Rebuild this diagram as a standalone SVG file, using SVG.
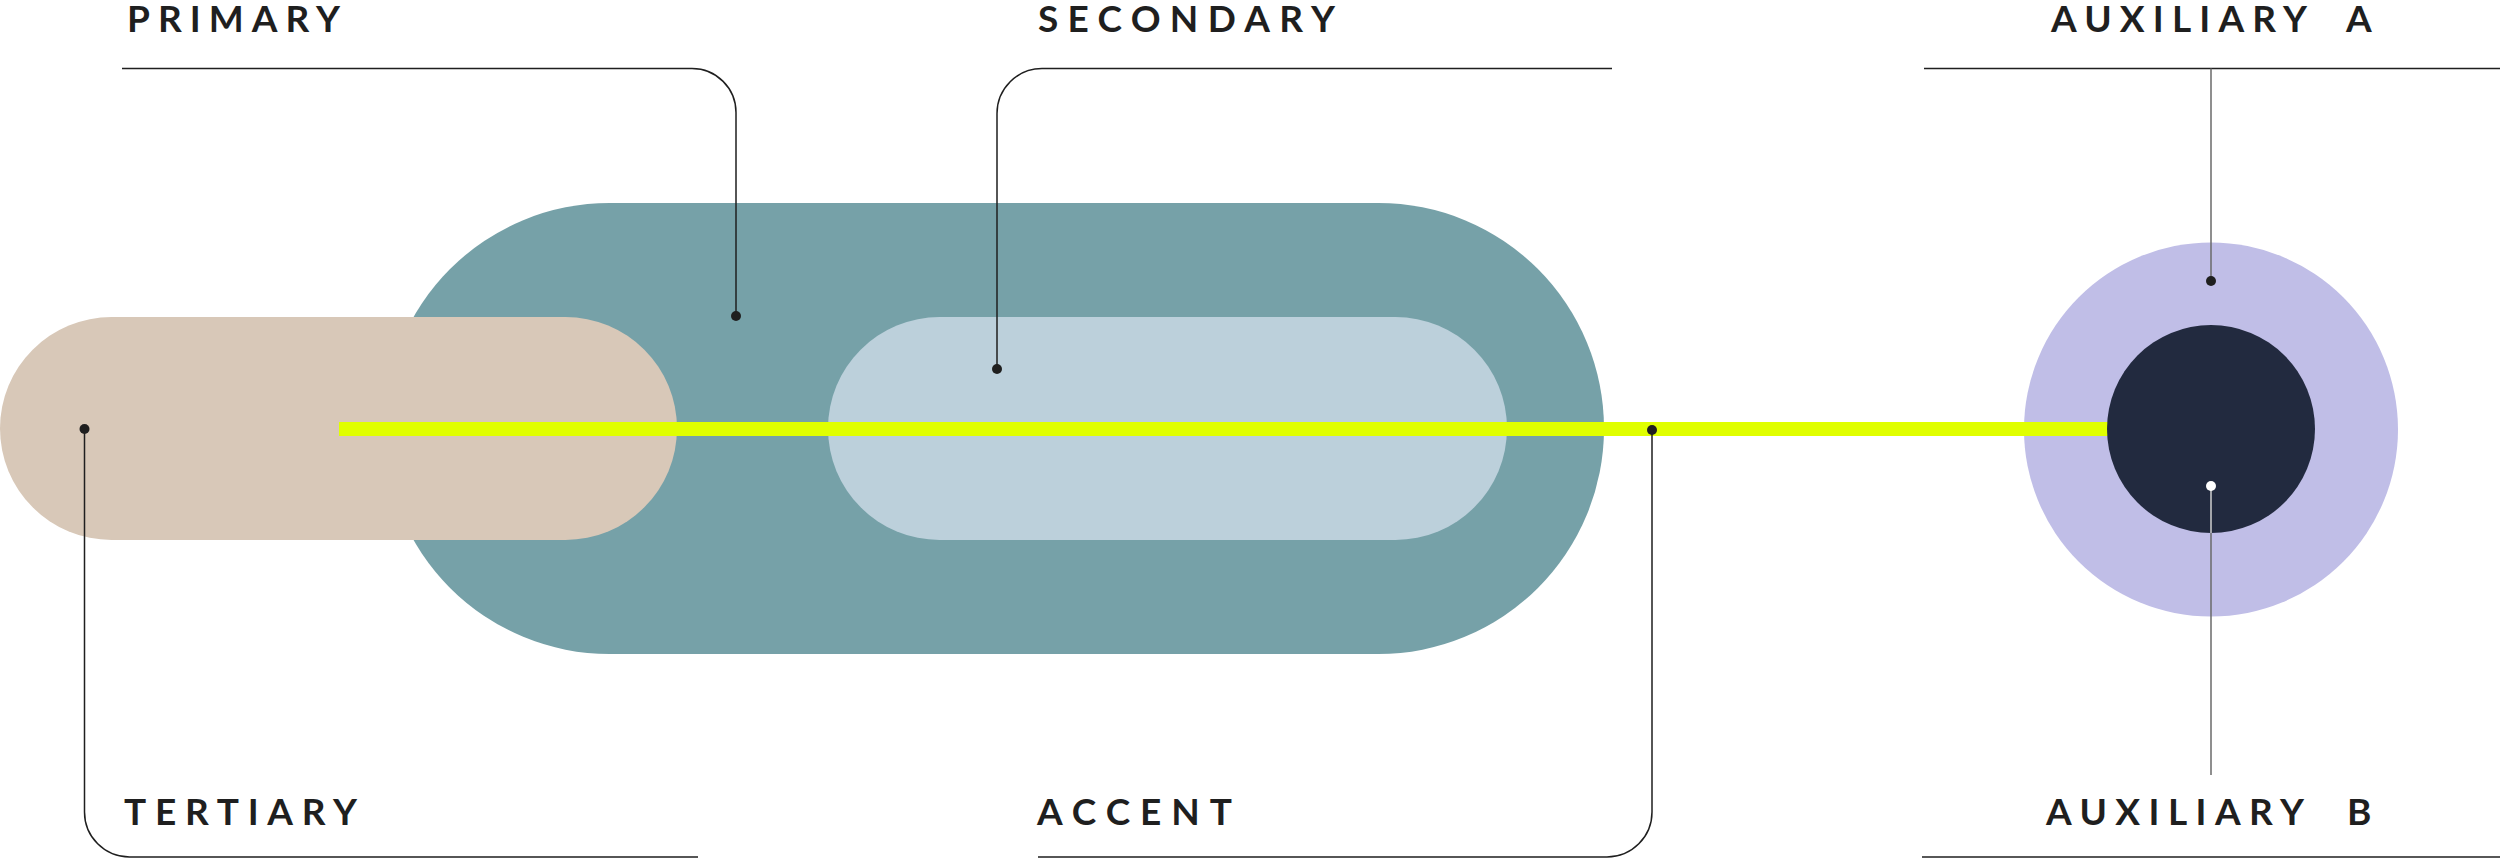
<svg xmlns="http://www.w3.org/2000/svg" width="2500" height="860" viewBox="0 0 2500 860">
<style>
.lbl{font-family:Lato,"Liberation Sans",sans-serif;font-weight:700;font-size:37px;fill:#1f1f1f;}
.lead{fill:none;stroke:#1f1f1f;stroke-width:1.5;}
.grey{fill:none;stroke:#6a6a6a;stroke-width:1.5;}
.dot{fill:#1f1f1f;}
</style>
<rect width="2500" height="860" fill="#ffffff"/>
<g id="primary"><rect x="384" y="203" width="1220" height="451" rx="225.5" fill="#76A1A8"/></g>
<g id="tertiary"><rect x="0" y="317" width="677" height="223" rx="111.5" fill="#D8C8B8"/></g>
<g id="secondary"><rect x="828" y="317" width="679" height="223" rx="111.5" fill="#BCD0DB"/></g>
<g id="auxiliary-a"><circle cx="2211" cy="429.5" r="187" fill="#C0BEE7"/></g>
<g id="accent"><rect x="339" y="422" width="1872" height="14" fill="#E0FF00"/></g>
<g id="auxiliary-b"><circle cx="2211" cy="429" r="104" fill="#222A3F"/></g>
<g id="connectors">
<path class="lead" d="M122 68.5 H692 A44 44 0 0 1 736 112.5 V316"/>
<path class="lead" d="M1612 68.5 H1042 A45 45 0 0 0 997 113.5 V369"/>
<path class="lead" d="M84.5 429 V812 A45 45 0 0 0 129.5 857 H698"/>
<path class="lead" d="M1652 430 V812 A45 45 0 0 1 1607 857 H1038"/>
<path class="lead" d="M1924 68.5 H2500"/>
<path class="grey" d="M2211 68.5 V281"/>
<path class="lead" d="M1922 857 H2500"/>
<path class="grey" d="M2211 533 V775"/>
<path fill="none" stroke="#d0d0d0" stroke-width="1.5" d="M2211 486 V533"/>
<circle class="dot" cx="736" cy="316" r="5"/>
<circle class="dot" cx="997" cy="369" r="5"/>
<circle class="dot" cx="84.5" cy="429" r="5"/>
<circle class="dot" cx="1652" cy="430" r="5"/>
<circle class="dot" cx="2211" cy="281" r="5"/>
<circle cx="2211" cy="486" r="5" fill="#ffffff"/>
</g>
<g id="labels">
<text class="lbl" x="127" y="32" textLength="213" lengthAdjust="spacing">PRIMARY</text>
<text class="lbl" x="1038" y="32" textLength="297" lengthAdjust="spacing">SECONDARY</text>
<text class="lbl" x="2051" y="32"><tspan textLength="256" lengthAdjust="spacing">AUXILIARY</tspan><tspan x="2346">A</tspan></text>
<text class="lbl" x="124" y="825" textLength="233" lengthAdjust="spacing">TERTIARY</text>
<text class="lbl" x="1037" y="825" textLength="195" lengthAdjust="spacing">ACCENT</text>
<text class="lbl" x="2046" y="825"><tspan textLength="258" lengthAdjust="spacing">AUXILIARY</tspan><tspan x="2347">B</tspan></text>
</g>
</svg>
